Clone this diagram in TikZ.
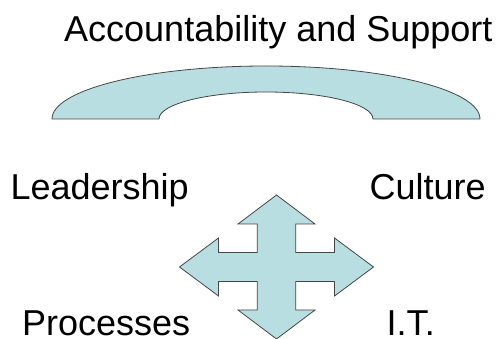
\documentclass[tikz,border=0pt]{standalone}
\usepackage{fontspec}
\setmainfont{Liberation Sans}
\definecolor{shapefill}{RGB}{185,222,226}
\definecolor{shapeline}{RGB}{70,70,70}
\begin{document}
\begin{tikzpicture}[x=1pt,y=1pt,
  label/.style={inner sep=0pt,anchor=base west,text depth=0pt,font=\fontsize{36}{43}\selectfont},
  blockshape/.style={fill=shapefill,draw=shapeline,line width=0.8pt,line join=miter}]
\useasboundingbox (0,0) rectangle (500,339);

% block arc across the top
\coordinate (arcL) at (52,220);
\coordinate (arcIR) at (373,220);
\draw[blockshape] (arcL) arc[start angle=180,end angle=0,x radius=214pt,y radius=53pt]
  -- (arcIR) arc[start angle=0,end angle=180,x radius=107pt,y radius=27pt] -- cycle;

% four-way arrow
\coordinate (c) at (276.5,72);
\draw[blockshape,shift={(c)}]
  (0,72) -- (38.5,43) -- (19.3,43) -- (19.3,14.5) -- (58,14.5) -- (58,29) -- (97,0)
  -- (58,-29) -- (58,-14.5) -- (19.3,-14.5) -- (19.3,-43) -- (38.5,-43) -- (0,-72)
  -- (-38.5,-43) -- (-19.3,-43) -- (-19.3,-14.5) -- (-58,-14.5) -- (-58,-29) -- (-97,0)
  -- (-58,29) -- (-58,14.5) -- (-19.3,14.5) -- (-19.3,43) -- (-38.5,43) -- cycle;

% labels
\node[label] (acc) at (64,297.3) {Accountability and Support};
\node[label] (lead) at (10.3,139) {Leadership};
\node[label] (cult) at (369.5,139) {Culture};
\node[label] (proc) at (22,3.5) {Processes};
\node[label] (it) at (386.5,3.5) {I.T.};
\end{tikzpicture}
\end{document}
